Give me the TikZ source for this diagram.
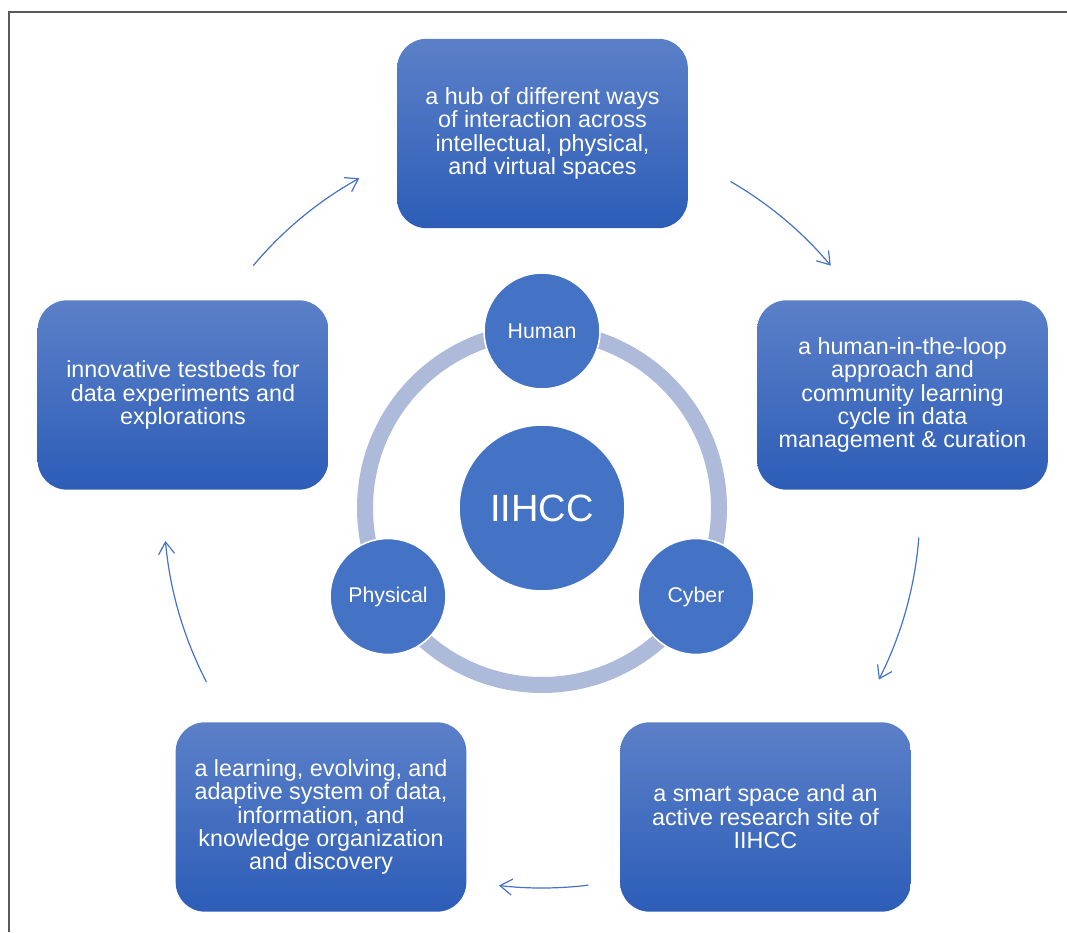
\documentclass[tikz,border=0pt]{standalone}
\usepackage{fontspec}
\setmainfont{Liberation Sans}
\usepackage{tikz}
\usetikzlibrary{arrows.meta}
\definecolor{boxtop}{HTML}{5B80C8}
\definecolor{boxbot}{HTML}{2D5DB8}
\definecolor{accent}{HTML}{4472C4}
\definecolor{ringcol}{HTML}{AEBAD9}
\definecolor{framecol}{HTML}{595959}

\begin{document}
\begin{tikzpicture}[x=0.75pt,y=0.75pt,
    cyclebox/.style={rounded corners=22pt, top color=boxtop, bottom color=boxbot,
        minimum width=218pt, minimum height=142pt, inner sep=0pt, align=center,
        text=white, font=\fontsize{17.5}{17.6}\selectfont},
    pillar/.style={circle, fill=accent, draw=white, line width=1.2pt, minimum size=87pt,
        inner sep=0pt, text=white, font=\fontsize{16}{16}\selectfont},
    hubcircle/.style={circle, fill=accent, draw=white, line width=1.2pt, minimum size=124.5pt,
        inner sep=0pt, text=white, font=\fontsize{28.5}{28.5}\selectfont},
    ringline/.style={draw=ringcol, line width=12pt},
    flow/.style={draw=accent, line width=0.9pt, -{Straight Barb[length=9pt,width=12pt]}}]
    \useasboundingbox (0,0) rectangle (1067,932);
    % Frame
    \draw[framecol, line width=1.5pt] (9,0) -- (9,920) -- (1067,920);
    % Centre: IIHCC and its ring
    \node[hubcircle] (iihcc) at (542,424) {IIHCC};
    \draw[ringline] (iihcc.center) circle (177);
    \node[pillar] (human) at (542,601) {Human};
    \node[pillar] (physical) at (388,335.5) {Physical};
    \node[pillar] (cyber) at (696,335.5) {Cyber};
    % Cycle boxes
    \node[cyclebox] (hub) at (542.5,798.5) {a hub of different ways\\of interaction across\\intellectual, physical,\\and virtual spaces};
    \node[cyclebox] (loop) at (902.5,537) {a human-in-the-loop\\approach and\\community learning\\cycle in data\\management \& curation};
    \node[cyclebox] (smart) at (765.5,115) {a smart space and an\\active research site of\\IIHCC};
    \node[cyclebox] (adaptive) at (321,115) {a learning, evolving, and\\adaptive system of data,\\information, and\\knowledge organization\\and discovery};
    \node[cyclebox] (testbed) at (183,537) {innovative testbeds for\\data experiments and\\explorations};
    % Cycle arrows
    \draw[flow] (iihcc.center) ++(140:377) arc[start angle=140, end angle=119, radius=377];
    \draw[flow] (iihcc.center) ++(60:377) arc[start angle=60, end angle=40, radius=377];
    \draw[flow] (iihcc.center) ++(-4.5:378) arc[start angle=-4.5, end angle=-27, radius=378];
    \draw[flow] (iihcc.center) ++(-83:380) arc[start angle=-83, end angle=-96.5, radius=380];
    \draw[flow] (iihcc.center) ++(207.4:378) arc[start angle=207.4, end angle=185, radius=378];
\end{tikzpicture}
\end{document}
